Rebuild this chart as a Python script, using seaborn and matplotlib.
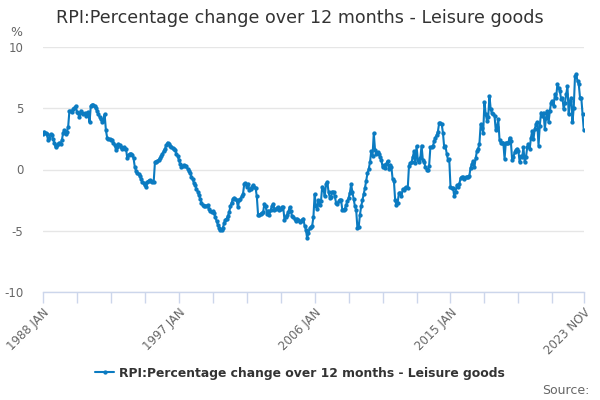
import pandas as pd
import matplotlib
matplotlib.use("Agg")
import matplotlib.pyplot as plt
import seaborn as sns

# monthly values, Jan 1988 .. Nov 2023
values = [
    2.9, 3.1, 3.0, 2.9, 2.4, 2.6, 2.9, 2.8, 2.5, 2.2, 1.8, 2.0,          # 1988
    2.1, 2.2, 2.1, 2.4, 3.0, 3.2, 2.9, 3.1, 3.5, 4.8, 4.8, 4.7,          # 1989
    4.9, 5.0, 5.2, 4.7, 4.6, 4.3, 4.8, 4.6, 4.5, 4.6, 4.4, 4.6,          # 1990
    4.7, 3.85, 5.2, 5.3, 5.3, 5.2, 5.0, 4.8, 4.5, 4.3, 4.1, 3.9,         # 1991
    4.0, 4.5, 3.2, 2.6, 2.5, 2.5, 2.4, 2.4, 2.2, 2.0, 1.6, 1.8,          # 1992
    2.1, 2.0, 1.8, 1.7, 1.8, 1.7, 1.7, 0.9, 1.2, 1.3, 1.3, 1.2,          # 1993
    0.9, 0.2, -0.1, -0.3, -0.4, -0.5, -0.8, -1.0, -1.1, -1.3, -1.45, -1.0,  # 1994
    -0.9, -0.85, -0.9, -1.0, -1.0, 0.6, 0.65, 0.7, 0.8, 0.9, 1.1, 1.3,   # 1995
    1.5, 1.7, 2.0, 2.2, 2.1, 1.9, 1.8, 1.75, 1.7, 1.6, 1.3, 1.1,         # 1996
    0.8, 0.45, 0.2, 0.3, 0.38, 0.3, 0.25, 0.05, -0.1, -0.3, -0.6, -0.8,  # 1997
    -1.1, -1.3, -1.6, -1.8, -2.1, -2.4, -2.7, -2.9, -2.95, -2.95, -2.95, -2.9,  # 1998
    -3.2, -3.4, -3.5, -3.4, -3.55, -3.9, -4.2, -4.5, -4.75, -4.9, -4.95, -4.75,  # 1999
    -4.4, -4.1, -4.0, -3.8, -3.5, -3.0, -2.7, -2.4, -2.3, -2.4, -2.5, -3.1,  # 2000
    -2.5, -2.4, -2.2, -2.0, -1.2, -1.1, -1.4, -1.15, -1.7, -1.6, -1.4, -1.3,  # 2001
    -1.45, -1.5, -2.2, -3.7, -3.7, -3.6, -3.55, -3.5, -2.8, -2.95, -3.6, -3.35,  # 2002
    -3.7, -3.3, -3.0, -2.8, -3.3, -3.2, -3.15, -3.1, -3.3, -3.2, -3.1, -3.1,  # 2003
    -4.1, -3.9, -3.7, -3.5, -3.1, -3.4, -3.8, -3.9, -4.0, -4.2, -4.0, -4.1,  # 2004
    -4.3, -4.2, -4.1, -4.0, -4.6, -4.9, -5.6, -5.2, -4.8, -4.7, -4.6, -3.9,  # 2005
    -2.0, -3.0, -3.2, -2.5, -2.9, -2.6, -1.4, -1.6, -2.2, -1.2, -1.0, -1.8,  # 2006
    -2.3, -2.25, -1.8, -1.8, -2.2, -2.7, -2.8, -2.6, -2.45, -2.5, -3.3, -3.3,  # 2007
    -3.2, -2.9, -2.6, -2.3, -1.9, -1.2, -1.85, -2.4, -3.0, -3.3, -4.8, -4.7,  # 2008
    -3.7, -3.0, -2.5, -2.0, -1.5, -0.9, -0.3, 0.05, 0.6, 1.5, 1.1, 2.97,  # 2009
    1.6, 1.3, 1.4, 1.3, 1.0, 0.8, 0.2, 0.35, 0.1, 0.45, 0.7, 0.05,       # 2010
    0.4, 0.2, -0.8, -0.9, -2.5, -2.9, -2.7, -1.9, -1.9, -2.2, -1.6, -1.7,  # 2011
    -1.5, -1.45, -1.55, 0.3, 0.5, 0.6, 1.0, 1.5, 0.5, 1.9, 0.8, 0.6,     # 2012
    0.9, 1.95, 0.8, 0.65, 0.2, 0.0, -0.05, 0.3, 1.8, 1.85, 1.9, 2.3,     # 2013
    2.6, 2.8, 3.1, 3.8, 3.8, 3.7, 3.0, 1.8, 1.9, 1.3, 0.8, 0.85,         # 2014
    -1.4, -1.55, -1.5, -2.2, -1.8, -1.3, -1.4, -1.2, -0.7, -0.6, -0.65, -0.75,  # 2015
    -0.65, -0.6, -0.6, -0.5, 0.15, 0.45, 0.7, 0.2, 0.9, 1.5, 1.7, 2.1,   # 2016
    3.7, 3.4, 3.0, 5.5, 4.5, 4.0, 4.3, 6.0, 4.9, 4.6, 4.5, 4.4,          # 2017
    3.2, 3.5, 4.1, 2.4, 2.2, 2.2, 2.2, 0.86, 2.2, 2.2, 2.2, 2.6,         # 2018
    2.3, 0.8, 1.0, 1.4, 1.6, 1.7, 1.5, 0.6, 1.1, 1.0, 1.8, 0.6,          # 2019
    1.0, 1.8, 2.1, 1.7, 2.6, 3.16, 2.5, 3.3, 3.7, 3.84, 1.95, 3.57,      # 2020
    4.65, 4.38, 4.65, 3.3, 4.24, 4.78, 3.84, 4.78, 5.46, 5.6, 5.19, 6.14,  # 2021
    5.86, 6.95, 6.68, 6.4, 5.73, 5.86, 4.92, 5.46, 6.14, 6.8, 4.5, 5.6,  # 2022
    5.86, 3.84, 5.05, 7.6, 7.76, 7.2, 6.95, 5.86, 5.86, 4.5, 3.2,        # 2023
]
series_name = "RPI:Percentage change over 12 months - Leisure goods"
y_ticks = [-10, -5, 0, 5, 10]
x_labels = ["1988 JAN", "1997 JAN", "2006 JAN", "2015 JAN", "2023 NOV"]

line_color = "#0b7bc1"
grey = "#666666"

sns.set_theme(style="white")
plt.rcParams["font.family"] = ["DejaVu Sans"]

df = pd.DataFrame({"month": range(len(values)), "value": values})

fig = plt.figure(figsize=(6, 4), dpi=100)
ax = fig.add_axes([0.0717, 0.27, 0.9013, 0.6125])

sns.lineplot(data=df, x="month", y="value", ax=ax, color=line_color,
             linewidth=1.5, marker="o", markersize=3.1, markeredgewidth=0,
             label=series_name, legend=False)

n = len(values)
ax.set_xlim(0, n - 1)
ax.set_ylim(-10, 10)
ax.set_yticks(y_ticks)
ax.set_yticklabels([str(t) for t in y_ticks], color=grey, fontsize=8.5)
ax.yaxis.grid(True, color="#e6e6e6", linewidth=1)
ax.tick_params(axis="y", length=0, pad=14)

# ticks every 27 months plus the last month, labels on every 4th one
tick_pos = list(range(0, n - 2, 27)) + [n - 1]
labels = []
k = 0
for i, p in enumerate(tick_pos):
    if i % 4 == 0 or p == n - 1:
        labels.append(x_labels[k])
        k += 1
    else:
        labels.append("")
ax.set_xticks(tick_pos)
ax.set_xticklabels(labels, rotation=45, ha="right", rotation_mode="anchor",
                   color=grey, fontsize=8.5)
ax.tick_params(axis="x", length=8, width=1, color="#ccd6eb", pad=2,
               bottom=True, direction="out")
ax.set_xlabel("")
ax.set_ylabel("")

for side in ["top", "right", "left"]:
    ax.spines[side].set_visible(False)
ax.spines["bottom"].set_color("#ccd6eb")
ax.spines["bottom"].set_linewidth(1)

fig.text(0.5, 0.955, series_name, ha="center", va="center",
         fontsize=12.6, color="#333333")
fig.text(0.017, 0.92, "%", ha="left", va="center", fontsize=9, color=grey)
fig.text(0.983, 0.025, "Source:", ha="right", va="center", fontsize=9, color=grey)

handles, lbls = ax.get_legend_handles_labels()
leg = fig.legend(handles, lbls, loc="center", bbox_to_anchor=(0.5, 0.0675),
                 frameon=False, fontsize=8.9, handlelength=1.6,
                 handletextpad=0.4)
for t in leg.get_texts():
    t.set_color("#333333")
    t.set_fontweight("bold")

fig.savefig("out.png", dpi=100)
